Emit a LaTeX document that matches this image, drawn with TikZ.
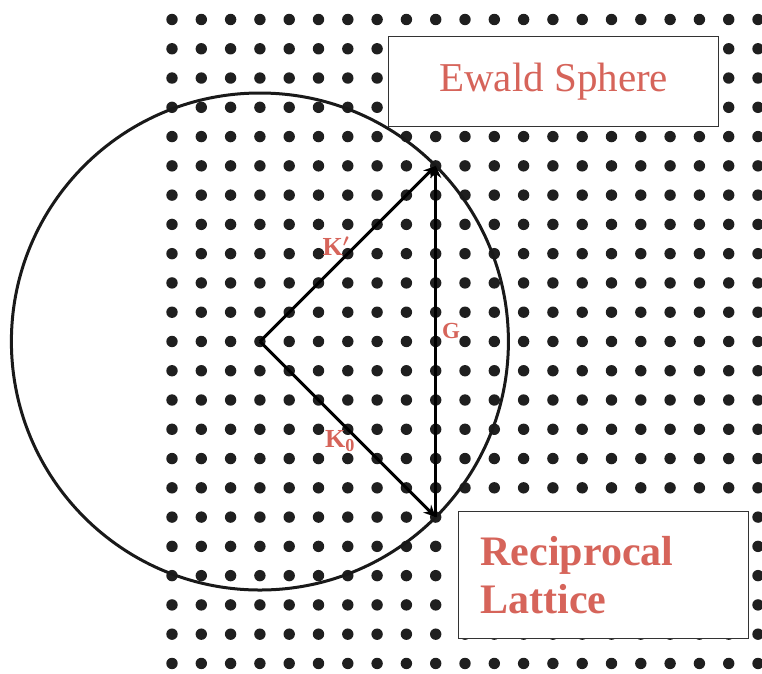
\documentclass[tikz,border=0pt]{standalone}
\usepackage{fontspec}
\setmainfont{Liberation Serif}
\usetikzlibrary{arrows.meta, positioning}
\definecolor{labred}{RGB}{214,100,90}

\begin{document}
\begin{tikzpicture}[
      x=1pt, y=-1pt,
      dot/.style={fill=black!88},
      box/.style={draw=black!80, line width=1.3pt, fill=white, inner sep=0pt},
      vec/.style={-{Stealth[length=12pt, width=11pt]}, line width=3pt},
      lbl/.style={text=labred, font=\fontsize{26}{28}\selectfont\bfseries\boldmath, inner sep=0pt}
    ]
    \useasboundingbox (0,0) rectangle (762,673);

    % reciprocal lattice points
    \foreach \i in {0,...,20}
      \foreach \j in {0,...,22}
        \fill[dot] (172+\i*29.3, 19.5+\j*29.27) circle (5.7);

    \coordinate (O) at (259.9, 341.5);
    \coordinate (P) at (435.7, 165.9);
    \coordinate (Q) at (435.7, 517.1);

    % Ewald sphere
    \draw[line width=3pt, black!90] (O) circle (248.5);

    \draw[vec] (O) -- (P);
    \draw[vec] (O) -- (Q);
    \draw[vec] (Q) -- (P);

    \node[lbl] (kp) at (336,246) {K$'$};
    \node[lbl, font=\fontsize{23}{24}\selectfont\bfseries] (g) at (451,331) {G};
    \node[lbl] (k0) at (340,441) {K\textsubscript{0}};

    \node[box, anchor=north west, minimum width=330pt, minimum height=90pt,
      text=labred, font=\fontsize{41}{48}\selectfont] (ewald) at (388,36) {Ewald Sphere};
    \node[box, anchor=north west, minimum height=127pt, text width=246pt,
      inner xsep=22pt, align=left, text=labred,
      font=\fontsize{42}{48}\selectfont\bfseries] (recip) at (458,511) {Reciprocal\\Lattice};
  \end{tikzpicture}
\end{document}
